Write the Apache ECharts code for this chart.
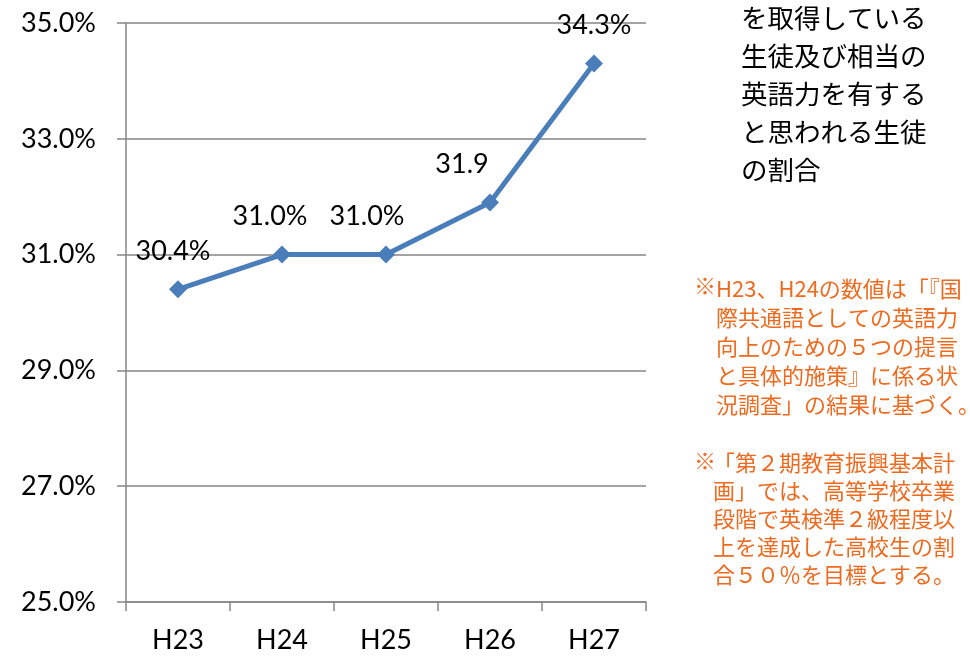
<!DOCTYPE html>
<html>
<head>
<meta charset="utf-8">
<style>
  html, body { margin: 0; padding: 0; background: #fff; }
  #line { width: 970px; height: 656px; }
</style>
<script src="https://cdn.jsdelivr.net/npm/echarts@6/dist/echarts.min.js"></script>
</head>
<body>
<div id="line"></div>
<script>
// 年度
var years = ['H23', 'H24', 'H25', 'H26', 'H27'];
// 割合(%)
var ratio = [30.4, 31.0, 31.0, 31.9, 34.3];
// グラフ上のラベル（原図のまま）
var pointLabels = ['30.4%', '31.0%', '31.0%', '31.9', '34.3%'];
// ラベルの横ずれ
var labelShift = [-5, -12, -19, -28, 0];
// 縦軸
var yMin = 25, yMax = 35, yStep = 2;

// 右側の説明文
var titleLines = ['を取得している', '生徒及び相当の', '英語力を有する', 'と思われる生徒', 'の割合'];
var note1 = ['H23、H24の数値は「『国', '際共通語としての英語力', '向上のための５つの提言', 'と具体的施策』に係る状', '況調査」の結果に基づく。'];
var note2 = ['「第２期教育振興基本計', '画」では、高等学校卒業', '段階で英検準２級程度以', '上を達成した高校生の割', '合５０％を目標とする。'];

function lineChart () {
  var myChart = echarts.init(document.getElementById('line'));
  var latin = 'Lato, "Noto Sans", sans-serif';
  var jp = '"Noto Sans CJK JP", sans-serif';
  var grey = '#868686';
  var orange = '#EE6A1E';

  var option = {
    backgroundColor: '#fff',
    animation: false,
    grid: { left: 126, right: 324, top: 23, bottom: 54 },
    xAxis: {
      type: 'category',
      data: years,
      boundaryGap: true,
      axisLine: { lineStyle: { color: grey, width: 1.5 } },
      axisTick: { show: true, length: 9, lineStyle: { color: grey, width: 1.5 } },
      axisLabel: { margin: 25, fontSize: 27, color: '#000', fontFamily: latin }
    },
    yAxis: {
      type: 'value',
      min: yMin,
      max: yMax,
      interval: yStep,
      axisLine: { show: true, lineStyle: { color: grey, width: 1.5 } },
      axisTick: { show: true, length: 9, lineStyle: { color: grey, width: 1.5 } },
      axisLabel: {
        margin: 30, fontSize: 27, color: '#000', fontFamily: latin,
        formatter: function (v) { return v.toFixed(1) + '%'; }
      },
      splitLine: { show: true, lineStyle: { color: grey, width: 1.5 } }
    },
    series: [{
      type: 'line',
      data: ratio.map(function (v, i) {
        return { value: v, label: { offset: [labelShift[i], 0] } };
      }),
      symbol: 'diamond',
      symbolSize: 18,
      lineStyle: { color: '#4A7EBB', width: 5 },
      itemStyle: { color: '#4A7EBB' },
      label: {
        show: true,
        position: 'top',
        distance: 16,
        fontSize: 27,
        color: '#000',
        fontFamily: latin,
        formatter: function (p) { return pointLabels[p.dataIndex]; }
      }
    }],
    graphic: [
      {
        type: 'text', left: 741, top: -1,
        style: { text: titleLines.join('\n'), fontSize: 26.5, lineHeight: 38, fill: '#000', fontFamily: jp }
      },
      {
        type: 'text', left: 694, top: 275,
        style: { text: '※', fontSize: 22, fill: orange, fontFamily: jp }
      },
      {
        type: 'text', left: 716, top: 274,
        style: { text: note1.join('\n'), fontSize: 22, lineHeight: 29, fill: orange, fontFamily: jp }
      },
      {
        type: 'text', left: 694, top: 450,
        style: { text: '※', fontSize: 22, fill: orange, fontFamily: jp }
      },
      {
        type: 'text', left: 713, top: 449,
        style: { text: note2.join('\n'), fontSize: 22, lineHeight: 28, fill: orange, fontFamily: jp }
      }
    ]
  };

  myChart.setOption(option);
  window.addEventListener('resize', function () {
    myChart.resize();
  });
}

lineChart();
</script>
</body>
</html>
